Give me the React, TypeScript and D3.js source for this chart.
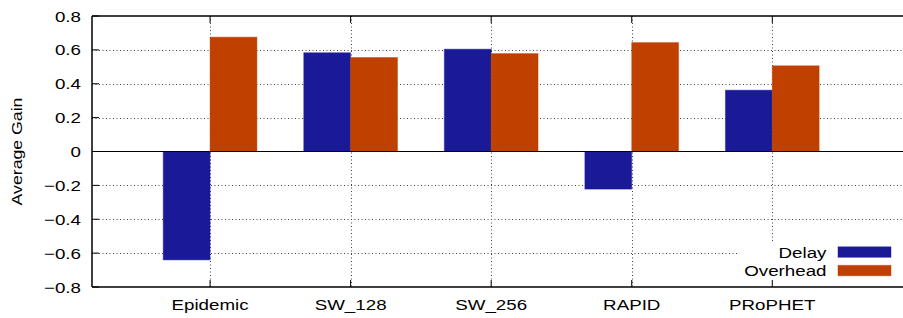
import React, { useEffect, useRef } from "react";
import * as d3 from "d3";

const categories = ["Epidemic", "SW_128", "SW_256", "RAPID", "PRoPHET"];
const delay = [-0.64, 0.583, 0.604, -0.222, 0.362];
const overhead = [0.675, 0.555, 0.578, 0.643, 0.506];
const yTicks = [-0.8, -0.6, -0.4, -0.2, 0, 0.2, 0.4, 0.6, 0.8];

const width = 903;
const height = 318;
const FONT = "'Liberation Sans', Arial, Helvetica, sans-serif";
const FS = "15px";
const SX = 1.25; // glyphs in the reference are stretched horizontally
const BLUE = "#1a1a98";
const ORANGE = "#c04000";

const fmt = (v: number) => {
  if (v === 0) return "0";
  const s = Math.abs(v).toFixed(1);
  return v < 0 ? "\u2212" + s : s;
};

export default function App() {
  const svgRef = useRef<SVGSVGElement>(null);

  useEffect(() => {
    if (!svgRef.current) return;
    const svg = d3.select(svgRef.current);
    svg.selectAll("*").remove();

    const left = 92;
    const top = 16;
    const bottom = 287;
    const right = 903;

    const x = d3.scaleLinear().domain([-0.84, 4.93]).range([left, right]);
    const y = d3.scaleLinear().domain([-0.8, 0.8]).range([bottom, top]);
    const bw = x(1 / 3) - x(0);

    const label = (tx: number, ty: number, txt: string, anchor: string, rot = 0, sx = SX) =>
      svg.append("text")
        .attr("transform", `translate(${tx},${ty}) rotate(${rot}) scale(${sx},1)`)
        .attr("text-anchor", anchor)
        .style("font-family", FONT)
        .style("font-size", FS)
        .attr("fill", "#000")
        .text(txt);

    // grid
    const grid = svg.append("g").attr("stroke", "#444").attr("stroke-width", 1).attr("stroke-dasharray", "1,2.5");
    yTicks
      .filter((t) => t !== 0 && Math.abs(t) !== 0.8)
      .forEach((t) => {
        grid.append("line")
          .attr("x1", left).attr("x2", right)
          .attr("y1", Math.round(y(t)) + 0.5).attr("y2", Math.round(y(t)) + 0.5);
      });
    categories.forEach((_c, i) => {
      grid.append("line")
        .attr("x1", Math.round(x(i)) + 0.5).attr("x2", Math.round(x(i)) + 0.5)
        .attr("y1", top).attr("y2", bottom);
    });

    // legend background
    svg.append("rect")
      .attr("x", 738).attr("y", 243)
      .attr("width", 165).attr("height", bottom - 243)
      .attr("fill", "#fff");

    // bars
    const bars = svg.append("g");
    categories.forEach((_c, i) => {
      const d = delay[i];
      const o = overhead[i];
      bars.append("rect")
        .attr("x", x(i) - bw).attr("width", bw)
        .attr("y", y(Math.max(0, d))).attr("height", Math.abs(y(d) - y(0)))
        .attr("fill", BLUE)
        .attr("stroke", BLUE).attr("stroke-opacity", 0.45).attr("stroke-width", 1);
      bars.append("rect")
        .attr("x", x(i)).attr("width", bw)
        .attr("y", y(Math.max(0, o))).attr("height", Math.abs(y(o) - y(0)))
        .attr("fill", ORANGE)
        .attr("stroke", ORANGE).attr("stroke-opacity", 0.45).attr("stroke-width", 1);
    });

    // zero axis
    svg.append("line")
      .attr("x1", left).attr("x2", right)
      .attr("y1", y(0)).attr("y2", y(0))
      .attr("stroke", "#000").attr("stroke-width", 1);

    // border
    const border = svg.append("g").attr("stroke", "#000").attr("stroke-width", 1.5);
    border.append("line").attr("x1", left).attr("x2", right).attr("y1", top).attr("y2", top);
    border.append("line").attr("x1", left).attr("x2", right).attr("y1", bottom).attr("y2", bottom);
    border.append("line").attr("x1", left).attr("x2", left).attr("y1", top).attr("y2", bottom);

    // ticks
    const ticks = svg.append("g").attr("stroke", "#000").attr("stroke-width", 1);
    yTicks.forEach((t) => {
      ticks.append("line")
        .attr("x1", left).attr("x2", left + 7)
        .attr("y1", y(t)).attr("y2", y(t));
    });
    categories.forEach((_c, i) => {
      ticks.append("line")
        .attr("x1", x(i)).attr("x2", x(i))
        .attr("y1", top).attr("y2", top + 7);
      ticks.append("line")
        .attr("x1", x(i)).attr("x2", x(i))
        .attr("y1", bottom).attr("y2", bottom - 7);
    });

    // tick labels
    yTicks.forEach((t) => label(81, y(t) + 5.5, fmt(t), "end"));
    categories.forEach((c, i) => label(x(i), 310, c, "middle"));

    // y label
    label(22, (top + bottom) / 2, "Average Gain", "middle", -90, 1.18);

    // legend
    const legend = [
      { label: "Delay", color: BLUE, yc: 252 },
      { label: "Overhead", color: ORANGE, yc: 270.5 },
    ];
    legend.forEach((l) => {
      label(826.5, l.yc + 5.5, l.label, "end");
      svg.append("rect")
        .attr("x", 838).attr("y", l.yc - 5.2)
        .attr("width", 53).attr("height", 10.5)
        .attr("fill", l.color)
        .attr("stroke", l.color).attr("stroke-opacity", 0.45).attr("stroke-width", 1);
    });
  }, []);

  return (
    <svg
      ref={svgRef}
      width={width}
      height={height}
      style={{ position: "absolute", left: 0, top: 0, background: "#fff" }}
    />
  );
}
